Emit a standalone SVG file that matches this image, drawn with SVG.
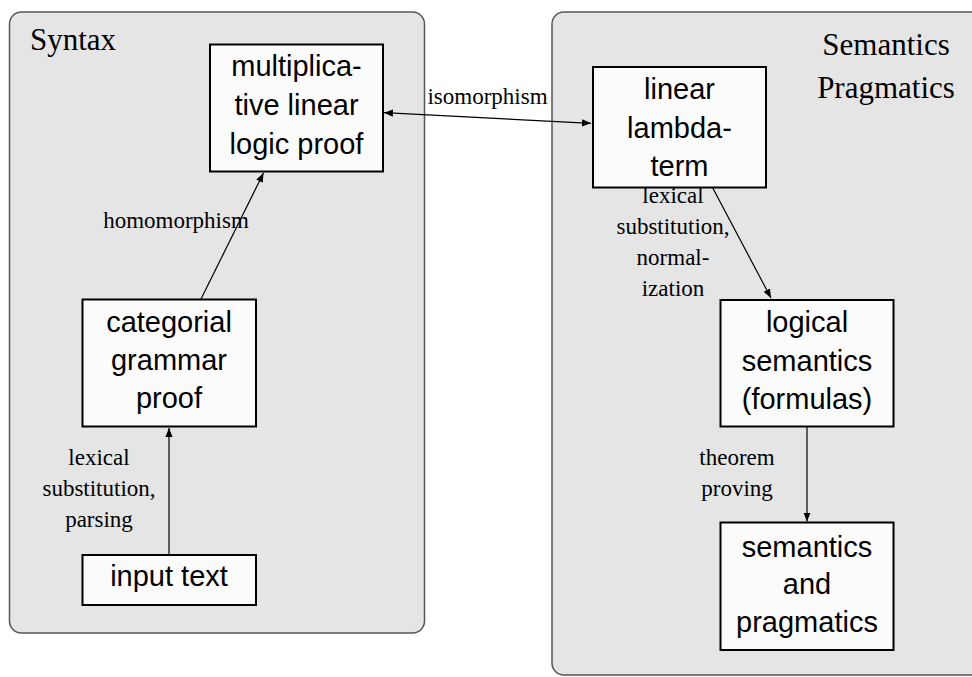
<svg xmlns="http://www.w3.org/2000/svg" width="972" height="677" viewBox="0 0 972 677">
<defs>
<style>
.panel{fill:#e5e5e5;stroke:#555;stroke-width:1.5}
.box{fill:#fbfbfb;stroke:#000;stroke-width:2}
.bt{font-family:"Liberation Sans",Arial,sans-serif;font-size:29px;fill:#000;text-anchor:middle}
.lb{font-family:"Liberation Serif","Times New Roman",serif;font-size:23px;fill:#000;text-anchor:middle}
.title{font-family:"Liberation Serif","Times New Roman",serif;font-size:31px;fill:#000}
.edge{stroke:#000;stroke-width:1.2;fill:none}
</style>
<marker id="ah" viewBox="0 0 10 10" refX="10" refY="5" markerWidth="9" markerHeight="9" markerUnits="userSpaceOnUse" orient="auto-start-reverse">
<path d="M0,1 L10,5 L0,9 Z" fill="#000"/>
</marker>
</defs>
<rect width="972" height="677" fill="#fff"/>
<g id="panel-syntax">
<rect class="panel" x="9.5" y="12" width="415" height="621" rx="12"/>
<text class="title" x="30" y="50">Syntax</text>
</g>
<g id="panel-semantics">
<rect class="panel" x="552" y="12" width="440" height="663" rx="12"/>
<text class="title" x="886" y="55" text-anchor="middle">Semantics</text>
<text class="title" x="886" y="98" text-anchor="middle">Pragmatics</text>
</g>
<g id="connectors">
<line class="edge" x1="169" y1="555" x2="169" y2="428" marker-end="url(#ah)"/>
<line class="edge" x1="201" y1="299" x2="263.5" y2="173" marker-end="url(#ah)"/>
<line class="edge" x1="384" y1="112.7" x2="591" y2="123.3" marker-start="url(#ah)" marker-end="url(#ah)"/>
<line class="edge" x1="712.5" y1="187.5" x2="771" y2="298" marker-end="url(#ah)"/>
<line class="edge" x1="807" y1="427" x2="807" y2="521.5" marker-end="url(#ah)"/>
<text class="lb" x="99" y="465">lexical</text>
<text class="lb" x="99" y="496">substitution,</text>
<text class="lb" x="99" y="527">parsing</text>
<text class="lb" x="176" y="228">homomorphism</text>
<text class="lb" x="487.5" y="104">isomorphism</text>
<text class="lb" x="673" y="203">lexical</text>
<text class="lb" x="673" y="234">substitution,</text>
<text class="lb" x="673" y="265">normal-</text>
<text class="lb" x="673" y="296">ization</text>
<text class="lb" x="737" y="465">theorem</text>
<text class="lb" x="737" y="496">proving</text>
</g>
<g id="node-input">
<rect class="box" x="82.5" y="555" width="173.5" height="50"/>
<text class="bt" x="169" y="586">input text</text>
</g>
<g id="node-categorial">
<rect class="box" x="82.5" y="299.5" width="173.5" height="127"/>
<text class="bt" x="169" y="332">categorial</text>
<text class="bt" x="169" y="370">grammar</text>
<text class="bt" x="169" y="408">proof</text>
</g>
<g id="node-mll">
<rect class="box" x="210" y="44.5" width="173" height="127"/>
<text class="bt" x="296.5" y="76">multiplica-</text>
<text class="bt" x="296.5" y="115">tive linear</text>
<text class="bt" x="296.5" y="154">logic proof</text>
</g>
<g id="node-lambda">
<rect class="box" x="593" y="67" width="173" height="120.5"/>
<text class="bt" x="679.5" y="99">linear</text>
<text class="bt" x="679.5" y="137.5">lambda-</text>
<text class="bt" x="679.5" y="175.5">term</text>
</g>
<g id="node-logical">
<rect class="box" x="720.5" y="300" width="173" height="126.5"/>
<text class="bt" x="807" y="332">logical</text>
<text class="bt" x="807" y="370.5">semantics</text>
<text class="bt" x="807" y="408.5">(formulas)</text>
</g>
<g id="node-pragmatics">
<rect class="box" x="720.5" y="522.5" width="173" height="127.5"/>
<text class="bt" x="807" y="556.5">semantics</text>
<text class="bt" x="807" y="593.5">and</text>
<text class="bt" x="807" y="631.5">pragmatics</text>
</g>
</svg>
